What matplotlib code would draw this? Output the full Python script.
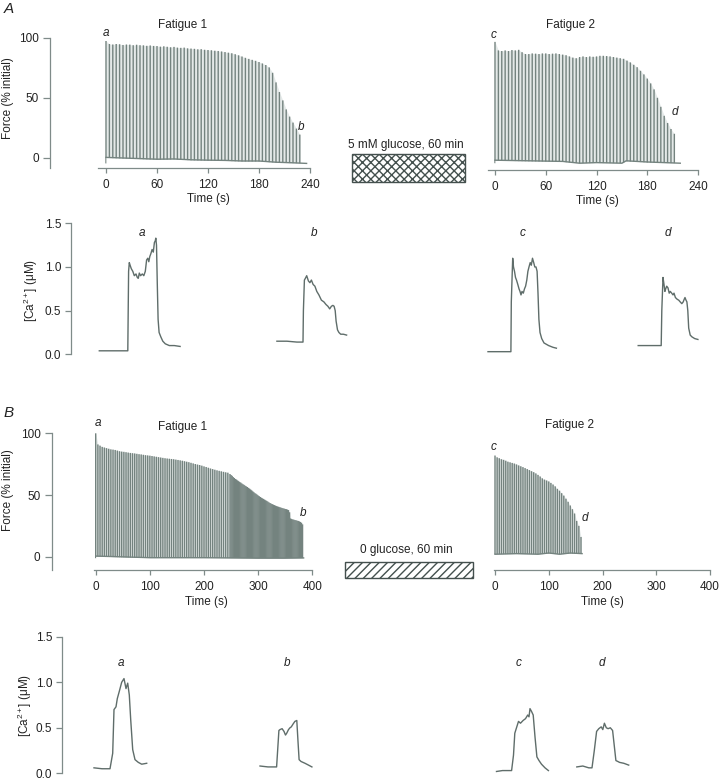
import numpy as np
import matplotlib
matplotlib.use("Agg")
import matplotlib.pyplot as plt
from matplotlib.patches import Rectangle

plt.rcParams['font.family'] = ['Liberation Sans', 'DejaVu Sans']
plt.rcParams['mathtext.fontset'] = 'custom'
plt.rcParams['mathtext.rm'] = 'Liberation Sans'
plt.rcParams['mathtext.it'] = 'Liberation Sans:italic'
plt.rcParams['hatch.linewidth'] = 1.0

# ---- force peaks (% initial), one value per tetanus ----
stim_a = 4  # s between tetani
a1_peaks = [97.5, 95.0, 94.6, 95.0, 94.8, 94.2, 94.6, 94.5, 94.0, 94.4,
            94.0, 93.9, 93.5, 93.8, 93.4, 93.3, 92.8, 93.1, 92.7, 92.3,
            92.6, 92.0, 91.8, 92.0, 91.4, 91.2, 91.0, 90.6, 90.7, 90.2,
            90.0, 89.8, 89.4, 89.2, 88.8, 88.3, 87.8, 87.3, 86.5, 85.6,
            84.6, 83.5, 82.6, 81.8, 81.0, 80.0, 78.8, 77.5, 75.5, 71.0,
            63.0, 55.0, 48.0, 40.5, 34.5, 29.5, 24.5, 19.5]
a1_base_t = [0, 20, 40, 60, 80, 100, 120, 140, 160, 180, 200, 220, 236]
a1_base_v = [0.5, 0, -0.5, -1, -0.8, -1.5, -1.8, -2, -2.5, -2.5, -3.5, -4, -4.5]

a2_peaks = [98.6, 91.5, 91.0, 91.5, 91.0, 91.8, 91.5, 92.0, 90.0, 88.5,
            88.5, 89.0, 88.8, 88.5, 89.0, 89.0, 88.5, 88.8, 89.0, 88.5,
            88.0, 87.5, 86.5, 85.5, 85.0, 86.0, 86.5, 86.0, 86.5, 86.2,
            86.5, 87.0, 87.0, 86.8, 86.5, 86.0, 85.5, 85.0, 84.5, 83.0,
            81.5, 79.5, 77.5, 74.5, 71.5, 68.0, 64.0, 59.0, 52.0, 44.5,
            37.0, 31.0, 26.0, 22.0]
a2_base_t = [0, 40, 80, 100, 120, 150, 155, 180, 200, 219]
a2_base_v = [0, -0.5, -1, -2.5, -2, -2.5, -0.5, -1.5, -2, -2.5]

stim_b_early, stim_b_late, b1_late_start = 4, 2, 248
b1_early = [100.0, 91.0, 90.0, 89.0, 88.5, 88.0, 87.5, 87.0, 86.8, 86.5,
            86.0, 85.5, 85.2, 85.0, 84.7, 84.4, 84.1, 83.9, 83.7, 83.4,
            83.1, 82.9, 82.6, 82.3, 82.1, 81.9, 81.6, 81.3, 81.0, 80.7,
            80.4, 80.1, 79.8, 79.6, 79.4, 79.2, 79.0, 78.7, 78.4, 78.1,
            77.8, 77.4, 77.0, 76.6, 76.1, 75.6, 75.1, 74.7, 74.3, 73.8,
            73.2, 72.7, 72.1, 71.5, 71.0, 70.5, 70.0, 69.6, 69.2, 68.8,
            68.4, 68.1]
b1_late = [67.0, 66.2, 65.5, 64.5, 63.8, 63.0, 62.5, 61.8, 61.2, 60.5,
           60.0, 59.3, 58.7, 58.2, 57.5, 57.0, 56.5, 55.8, 55.2, 54.5,
           53.8, 53.0, 52.3, 51.5, 51.0, 50.3, 49.6, 49.0, 48.4, 47.8,
           47.3, 46.8, 46.2, 45.7, 45.2, 44.6, 44.0, 43.5, 43.0, 42.6,
           42.2, 41.8, 41.4, 41.0, 40.7, 40.4, 40.1, 39.8, 39.5, 39.2,
           39.0, 38.7, 38.5, 38.2, 37.8, 36.0, 31.0, 30.5, 30.2, 30.0,
           29.7, 29.5, 29.2, 29.0, 28.6, 28.2, 27.5, 26.2]
b1_base_t = [0, 40, 100, 200, 250, 300, 350, 384]
b1_base_v = [0.5, 0, -0.8, -0.8, -1, -1.2, -1.2, -1]

b2_peaks = [82.0, 80.5, 79.8, 79.0, 78.5, 77.8, 77.0, 76.5, 76.0, 75.5,
            74.8, 74.0, 73.3, 72.6, 71.8, 71.0, 70.2, 69.3, 68.5, 67.5,
            66.3, 65.0, 63.5, 62.5, 61.8, 61.0, 59.8, 58.5, 57.0, 55.0,
            53.5, 51.5, 49.5, 47.0, 44.5, 41.5, 38.5, 35.0, 29.0, 25.0,
            16.0]
b2_base_t = [0, 40, 80, 100, 120, 140, 162]
b2_base_v = [2, 2.5, 2, 3, 2, 3, 2.5]

# ---- [Ca2+] records (ms from start of record, uM) ----
ca_a = {
    'a': ([0, 285, 289, 293, 300, 308, 320, 335, 350, 367, 380, 390, 400, 413, 430, 445, 460, 473, 485,
           495, 505, 515, 528, 540, 551, 560, 565, 572, 580, 588, 598, 615, 635, 660, 700, 750, 808],
          [0.04, 0.04, 0.5, 0.95, 1.05, 1.02, 0.98, 0.95, 0.9, 0.92, 0.88, 0.87, 0.93, 0.9, 0.92, 0.9, 0.95,
           1.08, 1.1, 1.06, 1.12, 1.15, 1.2, 1.17, 1.28, 1.3, 1.33, 1.25, 0.8, 0.4, 0.25, 0.2, 0.15, 0.12,
           0.1, 0.1, 0.09]),
    'b': ([0, 100, 200, 261, 265, 275, 285, 298, 315, 330, 345, 362, 380, 399, 420, 445, 470, 491, 510,
           528, 545, 560, 572, 583, 592, 606, 620, 638, 665, 697],
          [0.15, 0.15, 0.14, 0.14, 0.5, 0.85, 0.87, 0.9, 0.84, 0.82, 0.85, 0.8, 0.78, 0.72, 0.68, 0.62, 0.6,
           0.57, 0.55, 0.52, 0.55, 0.56, 0.55, 0.5, 0.38, 0.28, 0.25, 0.23, 0.23, 0.22]),
    'c': ([0, 100, 229, 233, 247, 255, 265, 275, 285, 298, 310, 320, 330, 340, 353, 365, 376, 388, 399,
           410, 422, 433, 445, 457, 468, 480, 491, 500, 509, 520, 537, 560, 606, 650, 684],
          [0.03, 0.03, 0.03, 0.6, 1.1, 1.0, 0.95, 0.88, 0.85, 0.8, 0.75, 0.72, 0.68, 0.72, 0.7, 0.75, 0.78,
           0.85, 0.95, 1.0, 1.05, 1.02, 1.1, 1.05, 1.0, 1.0, 0.95, 0.7, 0.4, 0.25, 0.18, 0.13, 0.1, 0.08,
           0.07]),
    'd': ([0, 100, 230, 236, 248, 258, 267, 275, 285, 298, 310, 321, 335, 348, 358, 372, 390, 405, 420,
           436, 450, 460, 468, 478, 487, 496, 505, 520, 537, 565, 597],
          [0.1, 0.1, 0.1, 0.5, 0.88, 0.8, 0.72, 0.75, 0.78, 0.76, 0.7, 0.72, 0.7, 0.68, 0.7, 0.65, 0.63,
           0.62, 0.6, 0.58, 0.6, 0.63, 0.65, 0.62, 0.6, 0.5, 0.3, 0.22, 0.2, 0.18, 0.17]),
}
ca_b = {
    'a': ([0, 80, 160, 187, 200, 220, 233, 253, 277, 300, 320, 337, 353, 367, 387, 410, 443, 477, 527],
          [0.06, 0.05, 0.05, 0.22, 0.7, 0.73, 0.82, 0.9, 1.0, 1.04, 0.93, 0.99, 0.86, 0.59, 0.26, 0.15,
           0.12, 0.1, 0.11]),
    'b': ([0, 80, 166, 189, 200, 221, 240, 255, 267, 285, 300, 313, 330, 349, 368, 380, 391, 410, 450,
           485, 519],
          [0.08, 0.07, 0.07, 0.47, 0.48, 0.49, 0.46, 0.42, 0.44, 0.48, 0.5, 0.51, 0.54, 0.57, 0.58, 0.35,
           0.15, 0.13, 0.11, 0.09, 0.07]),
    'c': ([0, 60, 151, 170, 183, 200, 220, 240, 266, 290, 312, 325, 335, 350, 367, 385, 404, 425, 450,
           485, 519],
          [0.02, 0.03, 0.03, 0.2, 0.44, 0.5, 0.57, 0.55, 0.58, 0.6, 0.64, 0.62, 0.71, 0.68, 0.64, 0.4,
           0.18, 0.14, 0.1, 0.06, 0.03]),
    'd': ([0, 60, 120, 152, 175, 198, 220, 244, 260, 276, 295, 313, 335, 358, 375, 391, 410, 427, 470, 519],
          [0.07, 0.08, 0.06, 0.06, 0.25, 0.46, 0.49, 0.51, 0.48, 0.55, 0.5, 0.49, 0.5, 0.47, 0.3, 0.14,
           0.13, 0.12, 0.11, 0.09]),
}

# layout (pixels of a 720x783 figure)
W, H = 720, 783
trace_col = '#74837f'
fill_col = '#e4e9e8'
axis_col = '#7f8b89'
text_col = '#222222'
fs = 8.5


def fx(px):
    return px / W


def fy(py):
    return 1 - py / H


def px_axes(fig, left, top, right, bottom):
    ax = fig.add_axes([fx(left), fy(bottom), (right - left) / W, (bottom - top) / H])
    ax.patch.set_alpha(0)
    for s in ax.spines.values():
        s.set_visible(False)
        s.set_color(axis_col)
        s.set_linewidth(0.9)
    ax.tick_params(colors=axis_col, labelcolor=text_col, labelsize=fs, width=0.9)
    return ax


def force_axes(fig, left, top, right, bottom, x0, kx, y0, ky, xticks, xbound, yaxis):
    ax = px_axes(fig, left, top, right, bottom)
    ax.set_xlim((left - x0) / kx, (right - x0) / kx)
    ax.set_ylim((y0 - bottom) / ky, (y0 - top) / ky)
    ax.spines['bottom'].set_visible(True)
    ax.spines['bottom'].set_bounds(xbound, xticks[-1])
    ax.set_xticks(xticks)
    ax.tick_params(axis='x', length=3.5, pad=4.5)
    if yaxis:
        ax.spines['left'].set_visible(True)
        ax.set_yticks([0, 50, 100])
        ax.tick_params(axis='y', length=5, pad=3)
    else:
        ax.set_yticks([])
    return ax


def draw_force(ax, times, peaks, base_t, base_v):
    lo = min(base_v)
    ax.fill_between(times, lo, peaks, color=fill_col, lw=0, zorder=0.5)
    ax.vlines(times, lo, peaks, color=trace_col, lw=1.0, zorder=1, snap=False)
    ax.fill_between(base_t, lo - 20, base_v, color='white', lw=0, zorder=1.5)
    ax.plot(base_t, base_v, color=trace_col, lw=1.0, zorder=2)


def ca_axes(fig, left, top, right, bottom, offsets, traces, label_pos, label_y):
    ax = px_axes(fig, left, top, right, bottom)
    ax.set_xlim(0, (right - left) * 10)
    ax.set_ylim(0, 1.5)
    ax.spines['left'].set_visible(True)
    ax.set_xticks([])
    ax.set_yticks([0, 0.5, 1.0, 1.5])
    ax.set_yticklabels(['0.0', '0.5', '1.0', '1.5'])
    ax.tick_params(axis='y', length=4, pad=3)
    for k in ['a', 'b', 'c', 'd']:
        t, v = traces[k]
        ax.plot(np.array(t) + offsets[k], v, color='#5f6d6a', lw=1.0, clip_on=False)
        ax.text(label_pos[k], label_y, k, style='italic', fontsize=fs, color=text_col,
                ha='center', va='center')
    return ax


fig = plt.figure(figsize=(W / 100, H / 100), dpi=100)

# ---- Panel A ----
ax = force_axes(fig, 50, 38, 316, 168, 106, 0.85, 158, 1.2, [0, 60, 120, 180, 240], -9, True)
draw_force(ax, np.arange(len(a1_peaks)) * stim_a, a1_peaks, a1_base_t, a1_base_v)
ax.text(90.6, 110.8, 'Fatigue 1', fontsize=fs, ha='center', va='center', color=text_col, clip_on=False)
ax.text(0, 104, 'a', style='italic', fontsize=fs, ha='center', va='center', color=text_col)
ax.text(229, 26, 'b', style='italic', fontsize=fs, ha='center', va='center', color=text_col)
ax.set_xlabel('Time (s)', fontsize=fs, color=text_col)
ax.xaxis.set_label_coords(fx(208), fy(199), transform=fig.transFigure)
ax.xaxis.label.set_va('center')
ax.set_ylabel('Force (% initial)', fontsize=fs, color=text_col)
ax.yaxis.set_label_coords(fx(8), fy(98), transform=fig.transFigure)
ax.yaxis.label.set_va('center')

ax = force_axes(fig, 480, 40.2, 705, 170.2, 495, 0.846, 160.2, 1.2, [0, 60, 120, 180, 240], -8, False)
draw_force(ax, np.arange(len(a2_peaks)) * stim_a, a2_peaks, a2_base_t, a2_base_v)
ax.text(88.7, 112.6, 'Fatigue 2', fontsize=fs, ha='center', va='center', color=text_col, clip_on=False)
ax.text(-2, 104.3, 'c', style='italic', fontsize=fs, ha='center', va='center', color=text_col, clip_on=False)
ax.text(212.8, 40.4, 'd', style='italic', fontsize=fs, ha='center', va='center', color=text_col)
ax.set_xlabel('Time (s)', fontsize=fs, color=text_col)
ax.xaxis.set_label_coords(fx(597), fy(201), transform=fig.transFigure)
ax.xaxis.label.set_va('center')

fig.text(fx(406), fy(145), '5 mM glucose, 60 min', fontsize=fs, ha='center', va='center', color=text_col)
fig.add_artist(Rectangle((fx(352), fy(181.7)), (465 - 352) / W, (181.7 - 154.3) / H,
                         transform=fig.transFigure, facecolor='white', edgecolor='#44504e',
                         hatch='xxxx', lw=1.0))

ca = ca_axes(fig, 71, 223.3, 710, 354.3,
             {'a': 283, 'b': 2059, 'c': 4170, 'd': 5672}, ca_a,
             {'a': 705, 'b': 2435, 'c': 4520, 'd': 5970}, 1.386)
ca.set_ylabel('[Ca$^{2+}$] (\u03bcM)', fontsize=fs, color=text_col)
ca.yaxis.set_label_coords(fx(31), fy(290), transform=fig.transFigure)
ca.yaxis.label.set_va('center')

# ---- Panel B ----
ax = force_axes(fig, 51.7, 433.3, 318, 570, 95.7, 0.5415, 556.7, 1.234, [0, 100, 200, 300, 400], -3, True)
b1_times = np.concatenate([np.arange(len(b1_early)) * stim_b_early,
                           b1_late_start + np.arange(len(b1_late)) * stim_b_late])
draw_force(ax, b1_times, b1_early + b1_late, b1_base_t, b1_base_v)
ax.text(161.2, 105.3, 'Fatigue 1', fontsize=fs, ha='center', va='center', color=text_col, clip_on=False)
ax.text(3.7, 108.3, 'a', style='italic', fontsize=fs, ha='center', va='center', color=text_col, clip_on=False)
ax.text(383.4, 35.2, 'b', style='italic', fontsize=fs, ha='center', va='center', color=text_col)
ax.set_xlabel('Time (s)', fontsize=fs, color=text_col)
ax.xaxis.set_label_coords(fx(206), fy(602), transform=fig.transFigure)
ax.xaxis.label.set_va('center')
ax.set_ylabel('Force (% initial)', fontsize=fs, color=text_col)
ax.yaxis.set_label_coords(fx(8), fy(490), transform=fig.transFigure)
ax.yaxis.label.set_va('center')

ax = force_axes(fig, 485, 433.3, 715, 570, 495, 0.5375, 556.7, 1.234, [0, 100, 200, 300, 400], -2, False)
draw_force(ax, np.arange(len(b2_peaks)) * stim_b_early, b2_peaks, b2_base_t, b2_base_v)
ax.text(139.5, 106.7, 'Fatigue 2', fontsize=fs, ha='center', va='center', color=text_col, clip_on=False)
ax.text(-3.2, 89.1, 'c', style='italic', fontsize=fs, ha='center', va='center', color=text_col, clip_on=False)
ax.text(168, 31.6, 'd', style='italic', fontsize=fs, ha='center', va='center', color=text_col)
ax.set_xlabel('Time (s)', fontsize=fs, color=text_col)
ax.xaxis.set_label_coords(fx(602), fy(602), transform=fig.transFigure)
ax.xaxis.label.set_va('center')

fig.text(fx(406.7), fy(550), '0 glucose, 60 min', fontsize=fs, ha='center', va='center', color=text_col)
fig.add_artist(Rectangle((fx(345), fy(578.3)), (472.7 - 345) / W, (578.3 - 561.7) / H,
                         transform=fig.transFigure, facecolor='white', edgecolor='#44504e',
                         hatch='////', lw=1.0))

ca = ca_axes(fig, 62, 636.7, 710, 773.3,
             {'a': 320, 'b': 1980, 'c': 4345, 'd': 5148}, ca_b,
             {'a': 587, 'b': 2247, 'c': 4565, 'd': 5400}, 1.21)
ca.set_ylabel('[Ca$^{2+}$] (\u03bcM)', fontsize=fs, color=text_col)
ca.yaxis.set_label_coords(fx(25), fy(705), transform=fig.transFigure)
ca.yaxis.label.set_va('center')

fig.text(fx(9), fy(9), 'A', fontsize=11, style='italic', ha='center', va='center', color=text_col)
fig.text(fx(9), fy(413), 'B', fontsize=11, style='italic', ha='center', va='center', color=text_col)

fig.savefig('out.png', dpi=100)
